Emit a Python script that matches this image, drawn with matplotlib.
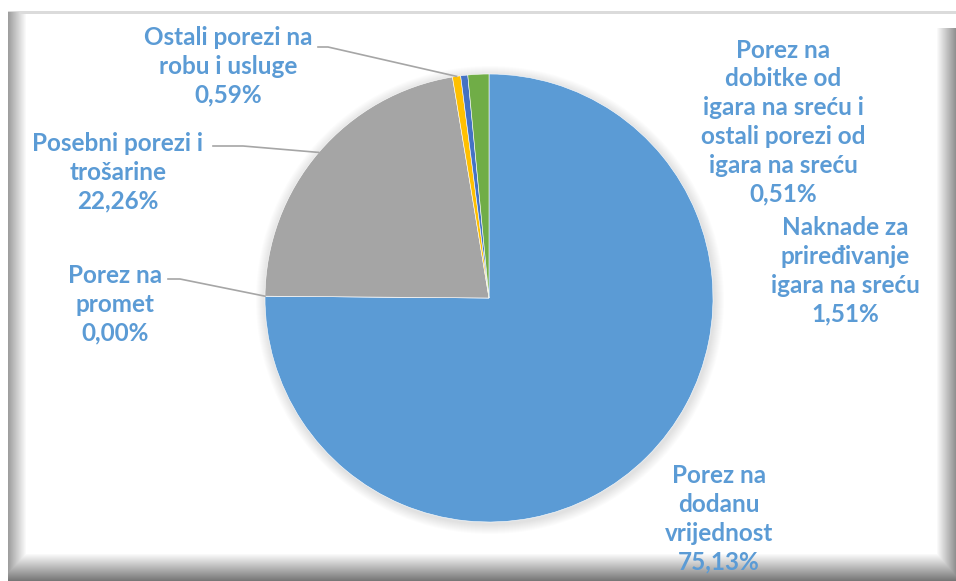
import numpy as np
import matplotlib.pyplot as plt
from matplotlib.patches import Circle

plt.rcParams['font.family'] = ['Lato', 'DejaVu Sans']

labels = ["Porez na\ndodanu\nvrijednost", "Porez na\npromet", "Posebni porezi i\ntrošarine",
          "Ostali porezi na\nrobu i usluge",
          "Porez na\ndobitke od\nigara na sreću i\nostali porezi od\nigara na sreću",
          "Naknade za\npriređivanje\nigara na sreću"]
shares = [75.13, 0.00, 22.26, 0.59, 0.51, 1.51]
colors = ["#5B9BD5", "#ED7D31", "#A5A5A5", "#FFC000", "#4472C4", "#70AD47"]

W, H = 956, 581
fig = plt.figure(figsize=(W / 100, H / 100), dpi=100)
ax = fig.add_axes([0, 0, 1, 1])
ax.set_xlim(0, W)
ax.set_ylim(0, H)
ax.axis('off')

# bevelled frame as a background image (row 0 = top)
xx, yy = np.meshgrid(np.arange(W), np.arange(H))
left = np.where((xx >= 8) & (xx < 26) & (yy >= 12), 0.62 + 0.38 * (xx - 8) / 18, 1)
right = np.where((xx >= 936) & (yy >= 28), 1 - 0.45 * np.clip((xx - 936) / 20, 0, 1), 1)
bottom = np.where((yy >= 553) & (xx >= 8), 1 - 0.55 * np.clip((yy - 553) / 28, 0, 1), 1)
bg = np.minimum(np.minimum(left, right), bottom)
bg[11:14, 8:] = np.minimum(bg[11:14, 8:], 0.86)
bg[:11, :] = 1
bg[:, :8] = 1
ax.imshow(np.dstack([bg] * 3), extent=(0, W, 0, H), origin='upper', zorder=0)

cx, cy, R = 489, H - 298, 224

# soft shadow around the pie
for k in range(10):
    ax.add_patch(Circle((cx + 1, cy - 2), R + 10 - k, color='k', alpha=0.012, lw=0, zorder=1))

wedges, _ = ax.pie(shares, colors=colors, startangle=90, counterclock=False,
                   center=(cx, cy), radius=R, frame=True,
                   wedgeprops=dict(edgecolor='white', linewidth=0.4))
for w in wedges:
    w.set_zorder(2)
ax.set_xlim(0, W)
ax.set_ylim(0, H)
ax.set_aspect('equal')
ax.axis('off')

txt = dict(color="#5B9BD5", fontsize=17.5, fontweight='bold', ha='center', va='center',
           linespacing=1.3, zorder=5)

def pct(v):
    return f"{v:.2f}%".replace('.', ',')

# label centres (pixels from the top) and leader start points
pos = [(719, 519), (115, 304), (118, 172), (228, 66), (783, 122), (845, 271)]
leaders = {1: (168, 279, 180), 2: (213, 146, 243), 3: (318, 47, 328)}

for i, (lab, v) in enumerate(zip(labels, shares)):
    x, y = pos[i]
    ax.text(x, H - y, lab + "\n" + pct(v), **txt)
    if i in leaders:
        x0, y0, x1 = leaders[i]
        w = wedges[i]
        ang = np.deg2rad((w.theta1 + w.theta2) / 2)
        ex, ey = cx + R * np.cos(ang), cy + R * np.sin(ang)
        ax.plot([x0, x1, ex], [H - y0, H - y0, ey], color='#A6A6A6', lw=1.2, zorder=4)

fig.savefig("out.png", dpi=100)
